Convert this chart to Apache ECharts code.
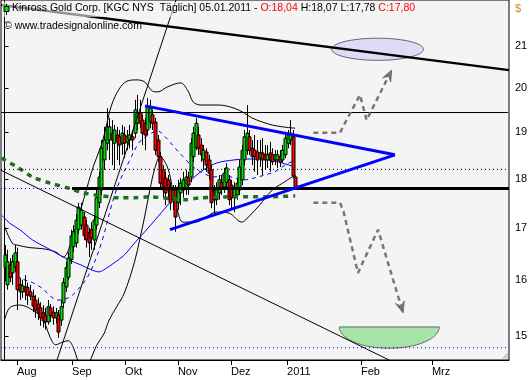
<!DOCTYPE html>
<html><head><meta charset="utf-8">
<script src="https://cdn.jsdelivr.net/npm/echarts@6/dist/echarts.min.js"></script>
<style>html,body{margin:0;padding:0;background:#fff}#c{width:532px;height:380px}</style>
</head><body><div id="c"></div><script>
// ---------- DATA ----------
// daily candles, bar index 0 = 26.07.2010 ... 114 = 05.01.2011
const opens  = [16.24,15.92,16.29,16.14,16.25,16.35,15.92,15.79,15.88,15.87,15.79,15.71,15.64,15.57,15.50,15.41,15.36,15.25,15.50,15.42,15.32,15.37,15.28,15.59,15.88,16.06,16.39,16.64,16.71,16.97,17.06,17.22,17.06,16.91,16.97,16.77,17.06,17.51,17.77,18.40,18.76,18.83,18.98,18.76,18.94,18.90,18.76,18.94,18.79,18.83,18.90,18.98,19.20,19.43,19.27,19.20,19.05,19.23,19.39,19.23,18.83,18.47,18.19,18.02,17.98,17.83,17.57,17.77,17.51,17.71,17.77,17.81,18.02,18.04,18.47,18.67,18.94,18.72,18.40,18.57,18.40,18.19,17.77,17.57,17.71,17.93,17.83,17.93,17.98,17.87,17.61,17.67,17.77,17.98,18.40,18.61,18.90,18.65,18.61,18.57,18.44,18.55,18.51,18.40,18.55,18.51,18.40,18.40,18.47,18.40,18.51,18.76,18.83,18.90,18.04];
const highs  = [16.67,16.58,16.42,16.48,16.67,16.62,16.05,16.01,16.10,15.96,15.92,15.83,15.73,15.68,15.60,15.55,15.50,15.64,15.57,15.53,15.50,15.46,15.64,16.05,16.35,16.54,16.97,17.06,17.28,17.51,17.51,17.32,17.16,17.01,17.12,17.26,17.77,18.15,18.83,19.12,19.54,19.32,19.27,19.16,19.12,19.05,19.16,19.12,19.05,19.16,19.05,19.73,19.84,19.73,19.39,19.32,19.77,19.73,19.50,19.32,18.94,18.57,18.29,18.15,18.08,17.93,17.87,17.87,17.98,18.02,18.15,18.19,18.15,18.87,19.12,19.32,19.12,18.87,18.72,18.65,18.51,18.29,17.87,17.93,18.08,18.08,18.23,18.33,18.08,17.98,17.93,18.02,18.40,18.72,19.05,19.61,19.05,18.83,18.94,18.83,18.83,18.87,18.72,18.72,18.79,18.65,18.61,18.61,18.61,18.72,19.01,19.05,19.27,19.05,18.07];
const lows   = [16.01,15.83,15.97,15.92,16.16,15.46,15.64,15.68,15.64,15.55,15.64,15.42,15.32,15.28,15.18,15.15,15.11,15.20,15.25,15.20,15.22,14.97,15.18,15.50,15.79,16.01,16.31,16.54,16.62,16.89,16.97,16.77,16.62,16.44,16.58,16.58,16.97,17.40,17.67,18.19,18.61,18.40,18.29,18.19,18.40,18.29,18.51,18.44,18.61,18.65,18.61,18.87,19.05,19.09,18.72,18.61,18.94,19.09,19.05,18.51,18.36,17.81,17.61,17.46,17.57,17.36,17.36,16.93,17.36,17.46,17.61,17.67,17.67,17.93,18.36,18.61,18.51,18.36,18.19,18.15,17.98,17.40,17.26,17.46,17.57,17.67,17.71,17.81,17.46,17.36,17.32,17.57,17.67,17.87,18.29,18.51,18.51,18.29,18.15,18.08,18.25,18.08,18.19,18.23,18.15,18.29,18.29,18.23,18.25,18.34,18.44,18.65,18.72,18.02,17.78];
const closes = [16.48,16.35,16.06,16.35,16.52,15.83,15.79,15.90,15.79,15.73,15.71,15.53,15.46,15.42,15.32,15.27,15.25,15.52,15.36,15.32,15.41,15.07,15.52,15.96,16.24,16.42,16.85,16.93,17.16,17.42,17.36,16.85,16.77,16.71,16.81,17.16,17.61,18.04,18.65,18.83,19.12,19.12,18.83,19.05,18.79,18.72,18.98,18.76,18.90,18.94,18.83,19.50,19.43,19.20,18.98,18.94,19.57,19.54,19.20,18.61,18.47,17.91,17.77,17.71,17.77,17.51,17.77,17.22,17.83,17.91,17.98,18.04,17.87,18.76,18.98,19.20,18.65,18.51,18.61,18.29,18.12,17.51,17.57,17.77,17.98,17.81,18.12,18.23,17.57,17.61,17.81,17.91,18.25,18.61,18.90,18.98,18.61,18.47,18.47,18.40,18.55,18.40,18.40,18.51,18.40,18.36,18.51,18.51,18.36,18.61,18.87,18.94,18.98,18.06,17.80];

// indicators: [bar index, price]
const bbUpper = [[0,17.04],[3,16.71],[5,16.67],[10,16.62],[15,16.60],[20,16.54],[23,16.44],[27,16.87],[31,17.57],[35,18.29],[38,18.72],[40,19.16],[42,19.61],[45,19.98],[48,20.16],[52,20.19],[55,20.14],[58,19.93],[60,19.91],[64,20.03],[69,20.12],[72,19.93],[74,19.68],[77,19.61],[84,19.61],[90,19.54],[94,19.43],[97,19.32],[101,19.23],[105,19.16],[109,19.12],[114,19.09]];
const bbLower = [[0,15.28],[2,15.50],[6,15.55],[11,15.46],[15,15.30],[18,14.97],[20,14.85],[23,14.90],[25,14.92],[27,14.80],[29,14.55],[31,14.38],[34,14.62],[36,14.83],[39,15.04],[41,15.28],[44,15.52],[47,15.77],[51,16.35],[53,16.77],[55,17.24],[57,17.77],[59,18.23],[61,18.47],[64,18.23],[66,17.77],[68,17.32],[70,17.12],[75,17.12],[79,17.22],[83,17.32],[88,17.30],[93,17.12],[96,17.24],[100,17.46],[105,17.77],[109,17.91],[114,18.08]];
const sma20 = [[0,16.29],[6,16.05],[11,15.96],[15,15.85],[18,15.71],[21,15.64],[25,15.68],[28,15.79],[33,16.10],[38,16.71],[42,17.46],[45,17.93],[49,18.38],[53,18.79],[57,18.96],[60,19.03],[63,18.90],[67,18.65],[70,18.47],[74,18.25],[78,18.12],[82,18.04],[86,18.08],[90,18.02],[94,17.98],[98,18.02],[102,18.08],[106,18.15],[110,18.29],[114,18.40]];
const sma50 = [[-1,17.25],[0,17.20],[2,17.10],[6,16.97],[11,16.77],[18,16.58],[25,16.39],[30,16.29],[34,16.20],[37,16.16],[39,16.20],[43,16.33],[47,16.48],[51,16.71],[55,16.93],[59,17.16],[64,17.46],[70,17.81],[77,18.15],[83,18.33],[90,18.40],[95,18.42],[100,18.42],[107,18.36],[114,18.25]];
const sma200 = [[-1,18.45],[0,18.40],[5,18.25],[11,18.04],[18,17.91],[25,17.81],[31,17.71],[38,17.65],[45,17.61],[51,17.61],[57,17.63],[65,17.59],[70,17.57],[77,17.61],[90,17.63],[103,17.63],[114,17.65]];

// drawing tools: [bar index, price]
const resistLine  = [[-1.37,22.02],[197.84,20.42]];
const steepLine   = [[67.25,22.15],[20.59,14.59]];
const supportLine = [[-1.37,18.18],[150.8,14.59]];
const levelTop    = [[-1.37,19.44],[197.4,19.44]];
const levelMain   = [[26.5,17.80],[197.84,17.80]];
const levelMainL  = [[-1.37,17.80],[26.5,17.80]];
const levelDot    = [[-1.37,18.20],[197.2,18.20]];
const levelLow    = [[-1.37,14.80],[197.2,14.80]];
const triUpper    = [[55.1,19.59],[153.1,18.51]];
const triLower    = [[64.9,16.97],[153.1,18.51]];
const pathUp      = [[121.1,18.99],[131.6,18.99],[133,19.15],[139.4,19.84],[142.0,19.27],[151.8,20.42]];
const pathDown    = [[121.1,17.51],[131.6,17.51],[133,17.32],[138.6,16.14],[146.5,16.97],[156.3,15.41]];
// ellipses: [centre index, centre price, half width (bars), top/bottom price]
const targetUp   = [146.3, 20.92, 18.0, 21.19];
const targetDown = [150.9, 15.16, 19.6, 14.79];

// axes
const xTickPos = [4.9, 26.5, 47.3, 68.0, 88.8, 110.8, 139.8, 167.6];
const xTickLbl = ['Aug','Sep','Okt','Nov','Dez','2011','Feb','Mrz'];
const xMin = -1.373, xMax = 197.84;
const yTicks = [15,16,17,18,19,20,21];
const priceMin = 14.59, priceMax = 22.15;

// ---------- CHART ----------
const LN = Math.log;
const FONT = 'Liberation Sans, Arial, sans-serif';
const toLn = arr => arr.map(p => [p[0], LN(p[1])]);
const candles = opens.map((o, i) => [i, LN(o), LN(closes[i]), LN(lows[i]), LN(highs[i])]);
const ellData = e => [[e[0], LN(e[1]), e[2], LN(e[3])]];
const heads = [pathUp, pathDown].map(p => {
  const a = p[p.length - 2], b = p[p.length - 1];
  return [b[0], LN(b[1]), a[0], LN(a[1])];
});

function renderCandle(params, api) {
  const x = api.value(0);
  const po = api.coord([x, api.value(1)]), pc = api.coord([x, api.value(2)]);
  const pl = api.coord([x, api.value(3)]), ph = api.coord([x, api.value(4)]);
  const cx = Math.round(po[0]) + 0.5;
  const top = Math.min(po[1], pc[1]), bot = Math.max(po[1], pc[1]);
  const up = api.value(2) >= api.value(1);
  return {type: 'group', children: [
    {type: 'line', shape: {x1: cx, y1: ph[1], x2: cx, y2: pl[1]}, style: {stroke: '#000', lineWidth: 1}},
    {type: 'rect', shape: {x: cx - 1.5, y: top, width: 3, height: Math.max(1, bot - top)},
     style: {fill: up ? '#00e000' : '#ff0000', stroke: '#000', lineWidth: 1}}
  ]};
}
function ellipseRenderer(half, fill) {
  return function (params, api) {
    const c = api.coord([api.value(0), api.value(1)]);
    const e = api.coord([api.value(0) + api.value(2), api.value(3)]);
    const rx = e[0] - c[0], ry = Math.abs(e[1] - c[1]);
    const pts = [];
    const n = 72, a1 = half ? Math.PI : 2 * Math.PI;
    for (let k = 0; k <= n; k++) {
      const a = a1 * k / n;
      pts.push([c[0] + rx * Math.cos(a), c[1] + ry * Math.sin(a)]);
    }
    return {type: 'polygon', shape: {points: pts}, style: {fill: fill, stroke: '#666', lineWidth: 1}};
  };
}
function renderHead(params, api) {
  const t = api.coord([api.value(0), api.value(1)]), f = api.coord([api.value(2), api.value(3)]);
  const dx = t[0] - f[0], dy = t[1] - f[1], L = Math.hypot(dx, dy) || 1;
  const ux = dx / L, uy = dy / L, len = 11, hw = 4.5;
  const bx = t[0] - ux * len, by = t[1] - uy * len;
  return {type: 'polygon', shape: {points: [[t[0], t[1]], [bx - uy * hw, by + ux * hw], [t[0] - ux * len * 0.6, t[1] - uy * len * 0.6], [bx + uy * hw, by - ux * hw]]},
    style: {fill: '#6e6e6e', stroke: '#6e6e6e', lineWidth: 1}};
}
function line(data, color, width, type, smooth, z) {
  return {type: 'line', data: toLn(data), showSymbol: false, symbol: 'none', smooth: smooth || false,
    lineStyle: {color: color, width: width, type: type || 'solid'}, z: z || 3, silent: true, clip: true};
}
const fmt = v => v.toFixed(2).replace('.', ',');

const chart = echarts.init(document.getElementById('c'), null, {renderer: 'canvas'});
chart.setOption({
  animation: false,
  backgroundColor: '#ffffff',
  grid: {left: 1, right: 23, top: 0, bottom: 20, show: true, backgroundColor: '#f4f4f4', borderColor: '#000', borderWidth: 1},
  xAxis: {
    type: 'value', min: xMin, max: xMax,
    axisLine: {show: true, lineStyle: {color: '#000'}},
    axisTick: {show: true, customValues: xTickPos, length: 5, lineStyle: {color: '#000'}},
    axisLabel: {customValues: xTickPos, align: 'left', margin: 6, color: '#000', fontSize: 11, fontFamily: FONT,
      formatter: v => { let b = 0; xTickPos.forEach((t, i) => { if (Math.abs(t - v) < Math.abs(xTickPos[b] - v)) b = i; }); return xTickLbl[b]; }},
    splitLine: {show: false}
  },
  yAxis: {
    type: 'value', position: 'right', min: LN(priceMin), max: LN(priceMax),
    axisLine: {show: true, lineStyle: {color: '#000'}},
    axisTick: {show: true, customValues: yTicks.map(LN), length: 4, lineStyle: {color: '#000'}},
    axisLabel: {customValues: yTicks.map(LN), margin: 6, color: '#000', fontSize: 11, fontFamily: FONT,
      formatter: v => String(Math.round(Math.exp(v)))},
    splitLine: {show: false}
  },
  series: [
    {type: 'custom', renderItem: ellipseRenderer(false, '#dcdcf6'), data: ellData(targetUp), encode: {x: 0, y: 1}, z: 2, silent: true},
    {type: 'custom', renderItem: ellipseRenderer(true, '#a6e3a6'), data: ellData(targetDown), encode: {x: 0, y: 1}, z: 2, silent: true},
    line(bbUpper, '#000', 1, 'solid', 0.35, 2),
    line(bbLower, '#000', 1, 'solid', 0.35, 2),
    line(sma50, '#0000ff', 1, 'solid', 0.35, 2),
    line(sma20, '#0000ff', 1, [4, 4], 0.35, 2),
    {type: 'custom', renderItem: renderCandle, data: candles, encode: {x: 0, y: [1, 2, 3, 4]}, z: 3, silent: true, clip: true},
    line(sma200, '#1f6f1f', 3.5, [5, 5], 0.3, 4),
    line(levelDot, '#000', 1, [1, 3], false, 4),
    line(levelLow, '#0000ff', 1, [1, 3], false, 4),
    line(levelMainL, '#0000ff', 1, [1, 3], false, 4),
    line(levelTop, '#000', 1, 'solid', false, 4),
    line(levelMain, '#000', 3, 'solid', false, 4),
    line(steepLine, '#000', 1, 'solid', false, 4),
    line(supportLine, '#000', 1, 'solid', false, 4),
    line(resistLine, '#000', 2.5, 'solid', false, 4),
    line(triUpper, '#0000ff', 3, 'solid', false, 5),
    line(triLower, '#0000ff', 3, 'solid', false, 5),
    line(pathUp, '#777', 2.5, [5, 4], false, 5),
    line(pathDown, '#777', 2.5, [5, 4], false, 5),
    {type: 'custom', renderItem: renderHead, data: heads, encode: {x: 0, y: 1}, z: 5, silent: true}
  ],
  graphic: [
    {type: 'rect', left: 2, top: 2, shape: {width: 412, height: 15}, style: {fill: 'rgba(244,244,244,0.6)'}, z: 10, silent: true},
    {type: 'line', shape: {x1: 6.5, y1: 4, x2: 6.5, y2: 15}, style: {stroke: '#000', lineWidth: 1}, z: 11},
    {type: 'rect', shape: {x: 4, y: 6.5, width: 5, height: 5}, style: {fill: '#00e000', stroke: '#000', lineWidth: 1}, z: 11},
    {type: 'text', left: 12, top: 3, z: 11, style: {
      text: '{n|Kinross Gold Corp. [KGC NYS  Täglich] 05.01.2011 - }{r|O:' + fmt(opens[114]) + '} {n|H:' + fmt(highs[114]) + '} {n|L:' + fmt(lows[114]) + '} {r|C:' + fmt(closes[114]) + '}',
      rich: {n: {fill: '#000', fontSize: 10.5, fontFamily: FONT}, r: {fill: '#ff0000', fontSize: 10.5, fontFamily: FONT}},
      fontSize: 10.5, fontFamily: FONT}},
    {type: 'text', left: 4, top: 21, z: 11, style: {text: '© www.tradesignalonline.com', fill: '#000', fontSize: 10.5, fontFamily: FONT}},
    {type: 'text', left: 515, top: 3, z: 11, style: {text: '$', fill: '#d08a20', fontSize: 11, fontFamily: FONT}},
    {type: 'polyline', shape: {points: [[503, 358.5], [508.5, 353]]}, style: {stroke: '#888', lineWidth: 1}, z: 11, silent: true},
    {type: 'polyline', shape: {points: [[506, 358.5], [508.5, 356]]}, style: {stroke: '#888', lineWidth: 1}, z: 11, silent: true}
  ]
});
</script></body></html>
